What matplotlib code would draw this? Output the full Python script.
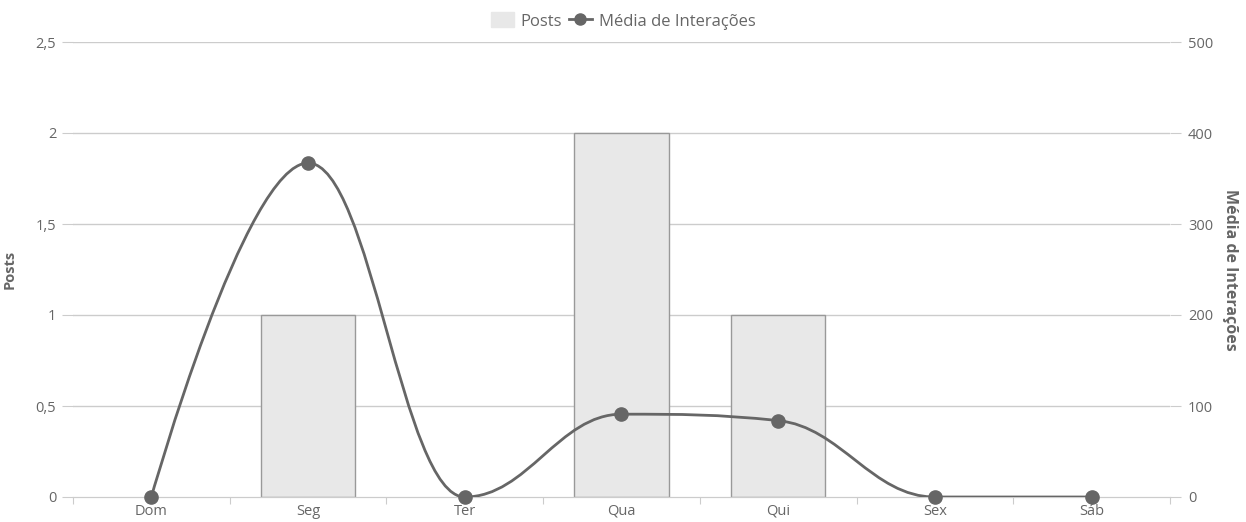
import numpy as np
import matplotlib.pyplot as plt
from matplotlib.path import Path
from matplotlib.patches import PathPatch, Patch
from matplotlib.lines import Line2D

plt.rcParams['font.family'] = ['Open Sans', 'DejaVu Sans']

dias = ['Dom', 'Seg', 'Ter', 'Qua', 'Qui', 'Sex', 'Sáb']
posts = [0, 1, 0, 2, 1, 0, 0]
media_interacoes = [0, 367, 0, 91, 84, 0, 0]
left_ticks = [0, 0.5, 1, 1.5, 2, 2.5]
left_labels = ['0', '0,5', '1', '1,5', '2', '2,5']
right_ticks = [0, 100, 200, 300, 400, 500]

txt = '#666666'
grid = '#cccccc'
fs = 10.5


def spline_path(xs, ys, smoothing=1.5):
    # spline like the web chart: control points at 0.4 of the step, no false extremes
    n = len(xs)
    lc = [(xs[i], ys[i]) for i in range(n)]
    rc = [(xs[i], ys[i]) for i in range(n)]
    den = smoothing + 1
    for i in range(1, n - 1):
        px, py = xs[i], ys[i]
        lx, ly = xs[i - 1], ys[i - 1]
        nx, ny = xs[i + 1], ys[i + 1]
        lcx = (smoothing * px + lx) / den
        lcy = (smoothing * py + ly) / den
        rcx = (smoothing * px + nx) / den
        rcy = (smoothing * py + ny) / den
        corr = (rcy - lcy) * (rcx - px) / (rcx - lcx) + py - rcy
        lcy += corr
        rcy += corr
        if lcy > ly and lcy > py:
            lcy = max(ly, py)
            rcy = 2 * py - lcy
        elif lcy < ly and lcy < py:
            lcy = min(ly, py)
            rcy = 2 * py - lcy
        if rcy > ny and rcy > py:
            rcy = max(ny, py)
            lcy = 2 * py - rcy
        elif rcy < ny and rcy < py:
            rcy = min(ny, py)
            lcy = 2 * py - rcy
        lc[i] = (lcx, lcy)
        rc[i] = (rcx, rcy)
    verts = [(xs[0], ys[0])]
    codes = [Path.MOVETO]
    for i in range(1, n):
        verts += [rc[i - 1], lc[i], (xs[i], ys[i])]
        codes += [Path.CURVE4] * 3
    return Path(verts, codes)


fig = plt.figure(figsize=(12.46, 5.22), dpi=100)
ax = fig.add_axes([73 / 1246, 25 / 522, 1097 / 1246, 455 / 522])
ax2 = ax.twinx()

x = np.arange(len(dias))
bars = ax.bar(x, posts, width=0.6, color='#e8e8e8', edgecolor='#999999', linewidth=1, zorder=2)
for b, v in zip(bars, posts):
    if v == 0:
        b.set_linewidth(0)
ax.set_xlim(-0.5, 6.5)
ax.set_ylim(0, 2.5)
ax2.set_ylim(0, 500)

for v in left_ticks[1:]:
    ax.axhline(v, color=grid, lw=1, zorder=0)

ax.set_yticks(left_ticks)
ax.set_yticklabels(left_labels)
ax2.set_yticks(right_ticks)
ax.set_xticks(np.arange(-0.5, 7, 1))
ax.set_xticklabels([])
ax.set_xticks(x, minor=True)
ax.set_xticklabels(dias, minor=True)
ax.tick_params(axis='x', which='major', length=5, color=grid, direction='out')
ax.tick_params(axis='x', which='minor', length=0, pad=5, labelsize=fs, labelcolor=txt)
ax.tick_params(axis='y', length=8, color=grid, pad=4, labelsize=fs, labelcolor=txt)
ax2.tick_params(axis='y', length=8, color=grid, pad=5, labelsize=fs, labelcolor=txt)

for a in (ax, ax2):
    for s in ['top', 'left', 'right']:
        a.spines[s].set_visible(False)
    a.spines['bottom'].set_color(grid)

ax.set_ylabel('Posts', fontsize=fs, fontweight='bold', color=txt, labelpad=14)
ax2.set_ylabel('Média de Interações', fontsize=11.5, fontweight='bold', color=txt,
               rotation=270, labelpad=18)

ax2.add_patch(PathPatch(spline_path(x, media_interacoes), fill=False,
                        edgecolor='#666666', lw=2, zorder=3))
ax2.plot(x, media_interacoes, 'o', color='#666666', ms=9.5, zorder=4, clip_on=False)

handles = [Patch(facecolor='#e8e8e8', edgecolor='#e8e8e8'),
           Line2D([0], [0], color='#666666', lw=2, marker='o', ms=8)]
fig.legend(handles, ['Posts', 'Média de Interações'], loc='upper center',
           bbox_to_anchor=(0.5, 1.005), ncol=2, frameon=False, fontsize=12,
           handlelength=1.4, handleheight=1.0, handletextpad=0.4,
           columnspacing=0.4, labelcolor=txt)

fig.savefig('out.png', dpi=100)
